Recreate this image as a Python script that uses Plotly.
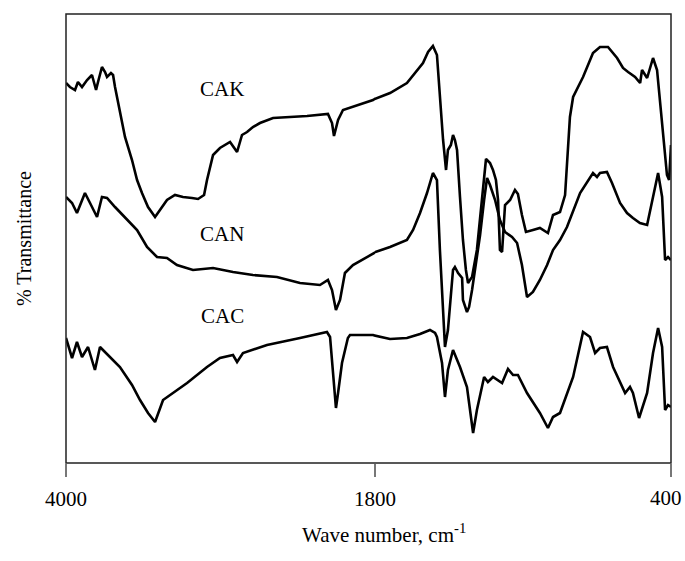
import plotly.graph_objects as go

# ---- data (wavenumber in cm-1, transmittance in arbitrary % units, curves offset) ----
cak_wn = [4000, 3972, 3936, 3915, 3886, 3850, 3815, 3786, 3772, 3744, 3722, 3708, 3680, 3665, 3651,
          3616, 3580, 3530, 3494, 3459, 3416, 3366, 3331, 3281, 3224, 3167, 3103, 3060, 3017, 2996,
          2953, 2904, 2832, 2782, 2747, 2711, 2669, 2619, 2526, 2405, 2284, 2135, 2106, 2092, 2063,
          2028, 1928, 1814, 1729, 1649, 1601, 1573, 1549, 1526, 1507, 1493, 1478, 1464, 1455, 1441,
          1431, 1422, 1412, 1398, 1384, 1370, 1360, 1351, 1341, 1318, 1294, 1275, 1256, 1242, 1228,
          1218, 1209, 1199, 1185, 1161, 1138, 1124, 1105, 1086, 1053, 1020, 982, 958, 925, 901,
          878, 863, 816, 769, 736, 698, 655, 627, 603, 570, 546, 537, 513, 485, 466,
          452, 438, 419, 409, 400]
cak_t = [76.0, 75.2, 74.6, 76.2, 75.2, 76.6, 77.6, 74.6, 76.2, 79.2, 78.2, 77.2, 78.0, 77.6, 75.2,
         70.6, 65.2, 60.6, 56.6, 54.0, 51.2, 49.2, 50.6, 52.6, 53.6, 53.2, 53.0, 52.8, 53.6, 56.6,
         61.6, 63.0, 64.2, 62.2, 65.6, 66.2, 67.2, 68.0, 69.0, 69.2, 69.4, 69.8, 68.0, 65.4, 68.6,
         70.6, 71.6, 72.6, 74.0, 76.0, 78.6, 80.0, 82.2, 83.4, 81.6, 72.6, 64.6, 58.6, 62.6, 63.6,
         65.6, 64.6, 62.6, 53.2, 44.6, 38.6, 36.0, 36.6, 37.2, 42.6, 52.6, 60.8, 60.0, 58.6, 56.6,
         52.6, 42.6, 42.2, 51.6, 52.6, 54.6, 53.8, 49.6, 46.2, 46.6, 47.0, 46.0, 49.6, 50.2, 53.6,
         69.2, 73.2, 77.2, 82.0, 83.2, 83.2, 81.0, 79.0, 78.2, 77.2, 76.0, 78.6, 77.0, 81.0, 78.6,
         72.6, 66.6, 57.6, 56.6, 63.6]

can_wn = [4000, 3957, 3922, 3865, 3829, 3779, 3744, 3708, 3651, 3566, 3494, 3423, 3352, 3281, 3210,
          3096, 2953, 2811, 2669, 2498, 2334, 2192, 2135, 2106, 2078, 2049, 2014, 1957, 1814, 1729,
          1649, 1620, 1587, 1554, 1526, 1507, 1493, 1478, 1469, 1455, 1445, 1431, 1422, 1407, 1388,
          1384, 1365, 1355, 1341, 1318, 1303, 1284, 1270, 1256, 1232, 1209, 1185, 1152, 1128, 1105,
          1081, 1053, 1020, 986, 958, 925, 892, 830, 769, 750, 736, 703, 679, 641, 608,
          580, 547, 513, 485, 461, 442, 428, 414, 400]
can_t = [53.2, 52.0, 50.0, 54.0, 52.0, 49.2, 53.2, 53.0, 51.2, 48.6, 46.6, 43.2, 41.2, 41.0, 39.6,
         38.6, 39.0, 38.2, 37.6, 37.2, 36.0, 35.6, 36.6, 34.6, 30.6, 32.6, 38.0, 39.6, 42.0, 43.2,
         44.6, 46.6, 50.0, 54.0, 58.0, 56.6, 42.6, 28.6, 23.2, 26.6, 31.2, 38.6, 39.2, 38.0, 37.0,
         32.6, 30.2, 31.2, 34.6, 41.2, 45.6, 52.6, 57.0, 55.6, 52.6, 48.6, 46.2, 45.2, 44.0, 39.6,
         33.2, 34.2, 36.6, 39.6, 42.6, 44.6, 47.2, 54.0, 58.0, 57.2, 58.0, 58.2, 56.0, 52.0, 50.0,
         49.0, 48.0, 47.6, 53.2, 58.0, 53.2, 40.6, 41.2, 40.6]

cac_wn = [4000, 3957, 3922, 3886, 3843, 3794, 3758, 3687, 3616, 3530, 3473, 3416, 3366, 3309, 3238,
          3138, 2996, 2904, 2811, 2782, 2740, 2569, 2334, 2142, 2120, 2099, 2078, 2063, 2035, 1993,
          1978, 1814, 1729, 1649, 1587, 1540, 1516, 1507, 1483, 1469, 1455, 1431, 1398, 1365, 1336,
          1318, 1284, 1266, 1242, 1199, 1171, 1147, 1124, 1081, 1020, 982, 958, 925, 863, 840,
          816, 783, 759, 736, 703, 674, 651, 617, 594, 580, 551, 513, 485, 461, 442,
          428, 414, 400]
cac_t = [25.0, 21.0, 24.2, 21.2, 23.2, 18.6, 23.2, 21.2, 19.2, 15.6, 12.6, 10.0, 8.2, 12.6, 14.0,
         16.0, 19.2, 21.0, 21.6, 20.2, 22.0, 23.6, 25.0, 26.2, 25.2, 18.6, 11.0, 14.0, 20.0, 25.0,
         25.6, 25.6, 24.8, 25.0, 25.8, 26.6, 26.0, 25.2, 20.0, 13.2, 18.6, 22.6, 19.2, 15.2, 6.0,
         10.6, 17.2, 16.2, 17.2, 16.0, 18.8, 17.6, 17.6, 14.0, 10.0, 7.0, 9.2, 10.0, 17.2, 21.6,
         26.2, 25.2, 22.0, 23.0, 23.2, 19.2, 17.2, 14.0, 15.2, 14.0, 9.0, 14.0, 22.0, 27.0, 23.2,
         10.6, 11.6, 11.2]

series_names = ["CAK", "CAN", "CAC"]
label_wn = [2889, 2889, 2889]
label_t = [74.8, 45.8, 29.4]

x_break = 1800          # scale changes at 1800 cm-1
x_left_range = [4000, 1800]
x_right_range = [1800, 400]
tick_left = [4000, 1800]
tick_right = [400]

FONT = "Liberation Serif, Times New Roman, serif"


def split(wn, t):
    """Split a spectrum into the high- and low-wavenumber parts (sharing boundary points)."""
    left_idx = [i for i, w in enumerate(wn) if w >= x_break]
    right_idx = [i for i, w in enumerate(wn) if w <= x_break]
    lo = left_idx[-1] + 1 if left_idx[-1] + 1 < len(wn) else left_idx[-1]
    hi = right_idx[0] - 1 if right_idx[0] > 0 else 0
    left = (wn[: lo + 1], t[: lo + 1])
    right = (wn[hi:], t[hi:])
    return left, right


fig = go.Figure()
for wn, t, name in [(cak_wn, cak_t, "CAK"), (can_wn, can_t, "CAN"), (cac_wn, cac_t, "CAC")]:
    (lw, lt), (rw, rt) = split(wn, t)
    fig.add_trace(go.Scatter(x=lw, y=lt, mode="lines", name=name, xaxis="x", yaxis="y",
                             line=dict(color="black", width=2.6), showlegend=False))
    fig.add_trace(go.Scatter(x=rw, y=rt, mode="lines", name=name, xaxis="x2", yaxis="y",
                             line=dict(color="black", width=2.6), showlegend=False))

split_frac = (375 - 66) / 605.0

axis_common = dict(showgrid=False, zeroline=False, showline=False, ticks="outside",
                   ticklen=13, tickwidth=2, tickcolor="#777777", automargin=False,
                   ticklabelstandoff=4,
                   tickfont=dict(family=FONT, size=21, color="black"))

fig.update_layout(
    width=685, height=561,
    margin=dict(l=66, r=14, t=14, b=98, autoexpand=False),
    paper_bgcolor="white", plot_bgcolor="white",
    xaxis=dict(domain=[0, split_frac], range=x_left_range, tickmode="array",
               tickvals=tick_left, ticktext=[str(v) for v in tick_left], anchor="y", **axis_common),
    # the rightmost tick label is placed as an annotation so it stays inside the page
    xaxis2=dict(domain=[split_frac, 1], range=x_right_range, tickmode="array",
                tickvals=tick_right, showticklabels=False, anchor="y", **axis_common),
    yaxis=dict(range=[0, 89.8], showticklabels=False, ticks="", showgrid=False, zeroline=False,
               showline=False, automargin=False,
               title=dict(text="% Transmittance", font=dict(family=FONT, size=20, color="black"),
                          standoff=28)),
    shapes=[dict(type="rect", xref="paper", yref="paper", x0=0, x1=1, y0=0, y1=1,
                 line=dict(color="#222222", width=1.5))],
)

for v in tick_right:
    fig.add_annotation(x=v, y=(463 - 498) / 449.0, xref="x2", yref="paper", text=str(v),
                       showarrow=False, xanchor="center", yanchor="middle", xshift=-5,
                       font=dict(family=FONT, size=21, color="black"))

for name, xw, yt in zip(series_names, label_wn, label_t):
    fig.add_annotation(x=xw, y=yt, xref="x", yref="y", text=name, showarrow=False,
                       font=dict(family=FONT, size=21, color="black"))

fig.add_annotation(x=(384 - 66) / 605.0, y=(463 - 549) / 449.0, xref="paper", yref="paper",
                   text="Wave number, cm<sup>-1</sup>", showarrow=False,
                   font=dict(family=FONT, size=21, color="black"))

fig.write_html("out.html")
